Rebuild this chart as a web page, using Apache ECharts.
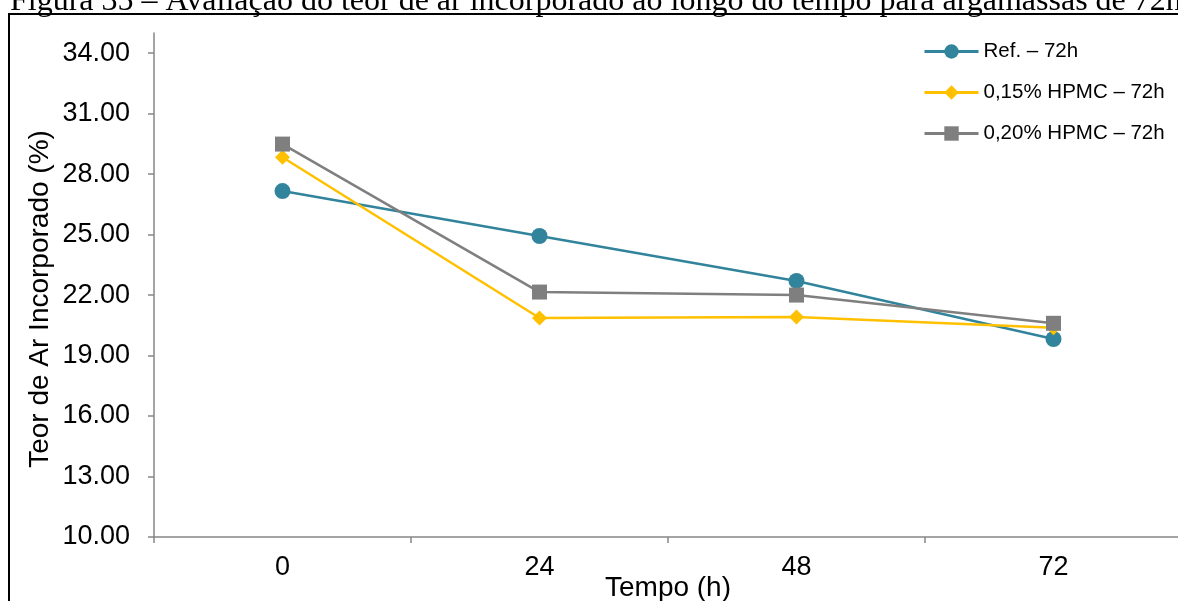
<!DOCTYPE html>
<html>
<head>
<meta charset="utf-8">
<script src="https://cdn.jsdelivr.net/npm/echarts@6/dist/echarts.min.js"></script>
<style>
  html, body { margin: 0; padding: 0; background: #fff; }
  #chart { width: 1178px; height: 601px; }
</style>
</head>
<body>
<div id="chart"></div>
<script>
// tempo (h)
var categories = ["0", "24", "48", "72"];
var refValues = [27.16, 24.93, 22.70, 19.82];
var hpmc015 = [28.84, 20.86, 20.91, 20.38];
var hpmc020 = [29.49, 22.15, 22.00, 20.60];
var seriesNames = ["Ref. – 72h", "0,15% HPMC – 72h", "0,20% HPMC – 72h"];

var achart = echarts.init(document.getElementById("chart"));
var option = {
  backgroundColor: "#fff",
  animation: false,
  graphic: [
    {
      type: "text", left: 10, top: -14,
      style: {
        text: "Figura 35 – Avaliação do teor de ar incorporado ao longo do tempo para argamassas de 72h",
        font: '32px "Liberation Serif"', fill: "#000"
      }
    },
    {
      type: "rect", shape: {x: 9, y: 14, width: 1200, height: 620},
      style: {fill: "none", stroke: "#000", lineWidth: 2}
    }
  ],
  legend: {
    orient: "vertical",
    left: 918, top: 36,
    itemWidth: 54, itemHeight: 18, itemGap: 20,
    textStyle: {fontFamily: "Liberation Sans", fontSize: 20.5, color: "#000"},
    lineStyle: {width: 3},
    data: seriesNames
  },
  grid: {left: 154, right: -4, top: 33, bottom: 64, containLabel: false, outerBoundsMode: "none"},
  xAxis: {
    type: "category",
    data: categories,
    boundaryGap: true,
    name: "Tempo (h)",
    nameLocation: "middle",
    nameGap: 37,
    nameMoveOverlap: false,
    nameTextStyle: {fontFamily: "Liberation Sans", fontSize: 28, color: "#000"},
    axisLine: {lineStyle: {color: "#868686", width: 1.5}},
    axisTick: {show: true, length: 6, inside: false, lineStyle: {color: "#868686", width: 1.5}},
    axisLabel: {fontFamily: "Liberation Sans", fontSize: 27, color: "#000", margin: 17}
  },
  yAxis: {
    type: "value",
    min: 10, max: 35, interval: 3,
    name: "Teor de Ar Incorporado (%)",
    nameLocation: "middle",
    nameGap: 100,
    nameRotate: 90,
    nameMoveOverlap: false,
    nameTextStyle: {fontFamily: "Liberation Sans", fontSize: 28, color: "#000", padding: [0, 28, 0, 0]},
    splitLine: {show: false},
    axisLine: {show: true, lineStyle: {color: "#868686", width: 1.5}},
    axisTick: {show: true, length: 6, lineStyle: {color: "#868686", width: 1.5}},
    axisLabel: {
      fontFamily: "Liberation Sans", fontSize: 27, color: "#000", margin: 24,
      showMaxLabel: false,
      formatter: function (v) { return v.toFixed(2); }
    }
  },
  series: [
    {
      name: seriesNames[0], type: "line", data: refValues,
      symbol: "circle", symbolSize: 16,
      itemStyle: {color: "#31849B"}, lineStyle: {color: "#31849B", width: 2.5}
    },
    {
      name: seriesNames[1], type: "line", data: hpmc015,
      symbol: "diamond", symbolSize: 15,
      itemStyle: {color: "#FFC000"}, lineStyle: {color: "#FFC000", width: 2.5}
    },
    {
      name: seriesNames[2], type: "line", data: hpmc020,
      symbol: "rect", symbolSize: 15,
      itemStyle: {color: "#7F7F7F"}, lineStyle: {color: "#7F7F7F", width: 2.5}
    }
  ]
};
achart.setOption(option);
</script>
</body>
</html>
